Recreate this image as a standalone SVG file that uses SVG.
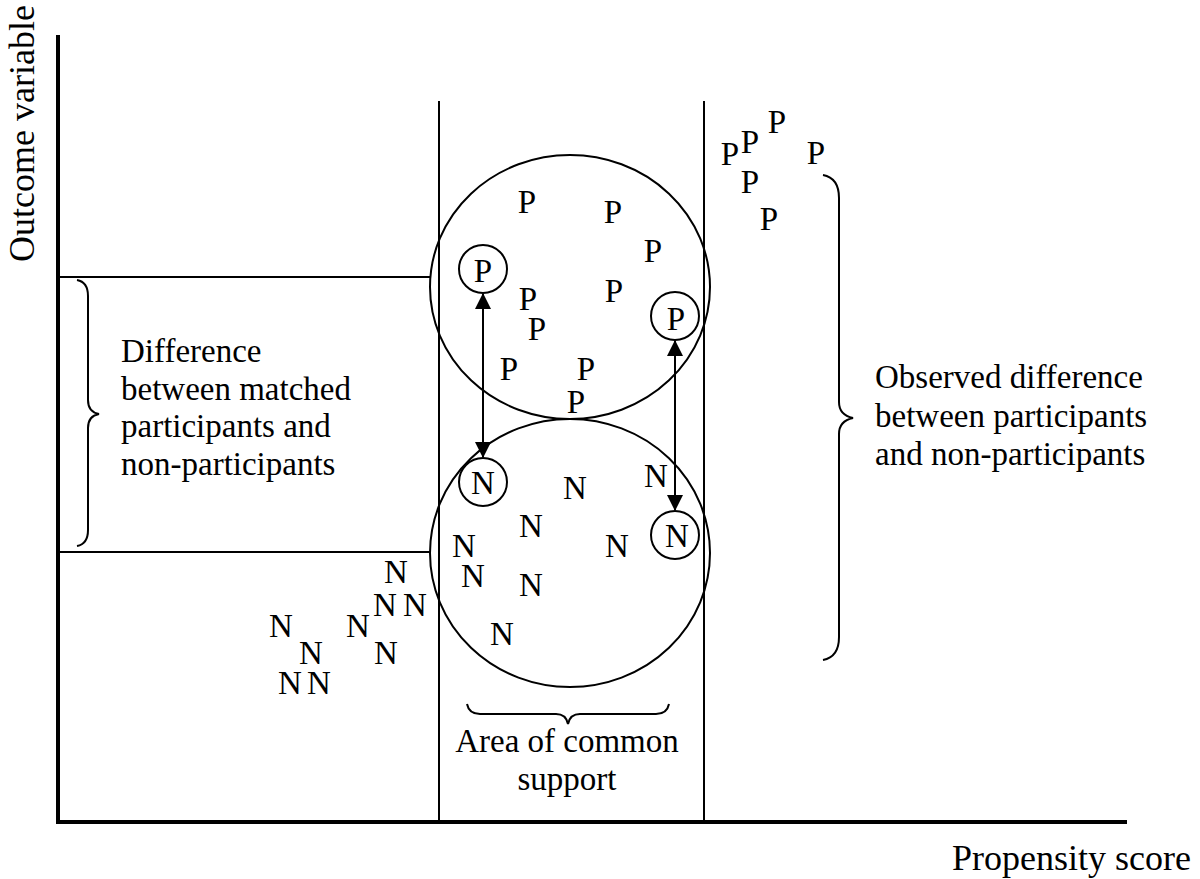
<svg xmlns="http://www.w3.org/2000/svg" width="1200" height="879" viewBox="0 0 1200 879" font-family="'Liberation Serif', serif">
<style>
.lt{font-family:"Liberation Serif",serif;font-size:33px;fill:#000}
.ax{font-family:"Liberation Serif",serif;font-size:36px;fill:#000}
.pt{font-family:"Liberation Serif",serif;font-size:33px;text-anchor:middle;fill:#000}
.ln{stroke:#000;stroke-width:2;fill:none}
.axis{stroke:#000;stroke-width:4;fill:none}
.br{stroke:#000;stroke-width:2;fill:none}
</style>
<defs>
<marker id="ah" viewBox="0 0 16 16" refX="15" refY="8" markerWidth="16" markerHeight="16" markerUnits="userSpaceOnUse" orient="auto-start-reverse">
<path d="M0,0 L16,8 L0,16 Z" fill="#000"/>
</marker>
</defs>
<rect width="1200" height="879" fill="#fff"/>
<g id="axes">
<path class="axis" d="M58,35 L58,822 L1127,822"/>
<text class="ax" transform="translate(34,262) rotate(-90)">Outcome variable</text>
<text class="ax" x="952" y="870">Propensity score</text>
</g>
<g id="guides">
<line class="ln" x1="439" y1="101" x2="439" y2="822"/>
<line class="ln" x1="704" y1="101" x2="704" y2="822"/>
<line class="ln" x1="58" y1="277" x2="431" y2="277"/>
<line class="ln" x1="58" y1="552" x2="430" y2="552"/>
</g>
<g id="participants-circle">
<ellipse class="ln" cx="570" cy="287" rx="140" ry="132"/>
<text class="pt" x="527" y="213">P</text>
<text class="pt" x="613" y="223">P</text>
<text class="pt" x="653" y="262">P</text>
<text class="pt" x="528" y="310">P</text>
<text class="pt" x="537" y="340">P</text>
<text class="pt" x="614" y="302">P</text>
<text class="pt" x="509" y="380">P</text>
<text class="pt" x="586" y="380">P</text>
<text class="pt" x="576" y="413">P</text>
</g>
<g id="matched-p1">
<circle class="ln" cx="483" cy="269" r="24"/>
<text class="pt" x="483" y="282">P</text>
</g>
<g id="matched-p2">
<circle class="ln" cx="675" cy="316" r="24"/>
<text class="pt" x="676" y="330">P</text>
</g>
<g id="nonparticipants-circle">
<ellipse class="ln" cx="570" cy="553" rx="140" ry="134"/>
<text class="pt" x="575" y="499">N</text>
<text class="pt" x="656" y="487">N</text>
<text class="pt" x="531" y="537">N</text>
<text class="pt" x="464" y="557">N</text>
<text class="pt" x="617" y="557">N</text>
<text class="pt" x="473" y="587">N</text>
<text class="pt" x="531" y="596">N</text>
<text class="pt" x="502" y="645">N</text>
</g>
<g id="matched-n1">
<circle class="ln" cx="483" cy="482" r="24"/>
<text class="pt" x="483" y="494">N</text>
</g>
<g id="matched-n2">
<circle class="ln" cx="675" cy="535" r="24"/>
<text class="pt" x="677" y="547">N</text>
</g>
<g id="outside-p">
<text class="pt" x="730" y="165">P</text>
<text class="pt" x="750" y="153">P</text>
<text class="pt" x="777" y="133">P</text>
<text class="pt" x="816" y="164">P</text>
<text class="pt" x="750" y="193">P</text>
<text class="pt" x="769" y="230">P</text>
</g>
<g id="outside-n">
<text class="pt" x="396" y="583">N</text>
<text class="pt" x="385" y="616">N</text>
<text class="pt" x="415" y="616">N</text>
<text class="pt" x="358" y="637">N</text>
<text class="pt" x="281" y="637">N</text>
<text class="pt" x="386" y="664">N</text>
<text class="pt" x="311" y="664">N</text>
<text class="pt" x="290" y="694">N</text>
<text class="pt" x="319" y="694">N</text>
</g>
<g id="connectors">
<line class="ln" x1="483" y1="294" x2="483" y2="457" marker-start="url(#ah)" marker-end="url(#ah)"/>
<line class="ln" x1="675" y1="341" x2="675" y2="510" marker-start="url(#ah)" marker-end="url(#ah)"/>
</g>
<g id="matched-difference">
<path class="br" d="M77,280 Q88,282 88,296 L88,400 Q88,412 99,414 Q88,416 88,428 L88,530 Q88,544 77,546"/>
<text class="lt" x="121" y="362">Difference</text>
<text class="lt" x="121" y="400">between matched</text>
<text class="lt" x="121" y="437">participants and</text>
<text class="lt" x="121" y="475">non-participants</text>
</g>
<g id="observed-difference">
<path class="br" d="M823,175 Q839,178 839,198 L839,402 Q839,415 853,418 Q839,421 839,434 L839,637 Q839,657 823,660"/>
<text class="lt" x="875" y="388">Observed difference</text>
<text class="lt" x="875" y="427">between participants</text>
<text class="lt" x="875" y="465">and non-participants</text>
</g>
<g id="common-support">
<path class="br" d="M467,704 Q469,714 480,714 L556,714 Q566,714 568,724 Q570,714 580,714 L656,714 Q667,714 669,704"/>
<text class="lt" x="567" y="752" text-anchor="middle">Area of common</text>
<text class="lt" x="567" y="790" text-anchor="middle">support</text>
</g>
</svg>
